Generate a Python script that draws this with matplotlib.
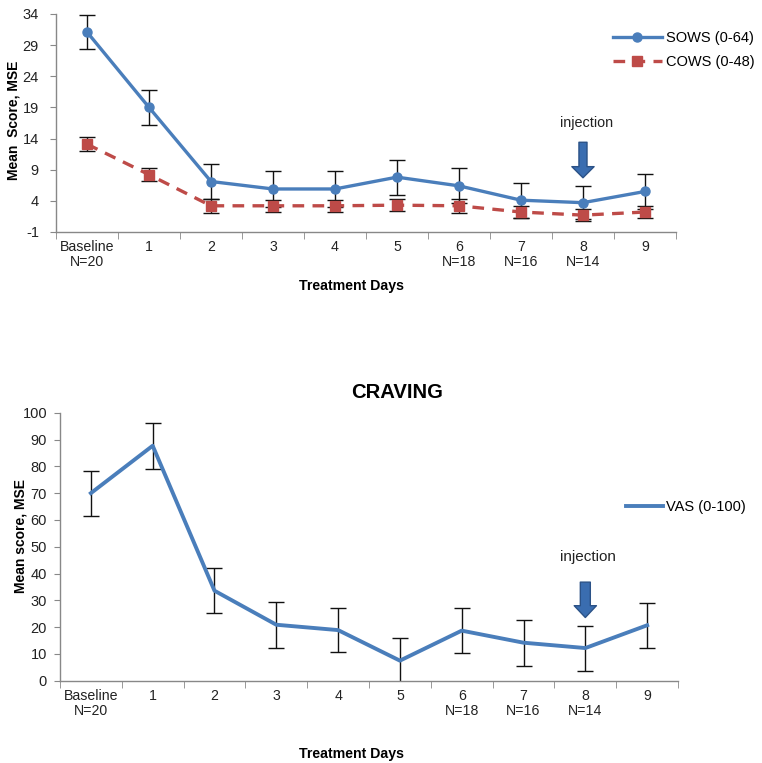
import matplotlib
matplotlib.use("Agg")
import matplotlib.pyplot as plt

plt.rcParams["font.family"] = ["Liberation Sans", "DejaVu Sans"]
plt.rcParams["axes.unicode_minus"] = False

# %% data
days = ["Baseline\nN=20", "1", "2", "3", "4", "5", "6\nN=18", "7\nN=16", "8\nN=14", "9"]

sows_mean = [31.1, 19.0, 7.1, 5.9, 5.9, 7.8, 6.4, 4.1, 3.7, 5.5]
sows_err = [2.8, 2.8, 2.8, 2.85, 2.85, 2.8, 2.8, 2.8, 2.7, 2.8]
cows_mean = [13.1, 8.2, 3.2, 3.2, 3.2, 3.3, 3.2, 2.2, 1.7, 2.2]
cows_err = [1.1, 1.0, 1.1, 1.0, 1.0, 1.0, 1.1, 1.0, 1.0, 1.0]

vas_mean = [70.0, 87.7, 33.6, 20.9, 18.9, 7.5, 18.7, 14.2, 12.2, 20.7]
vas_err = [8.4, 8.5, 8.3, 8.6, 8.3, 8.5, 8.3, 8.6, 8.4, 8.5]

top_yticks = list(range(-1, 35, 5))
bottom_yticks = list(range(0, 101, 10))

# %% styling
blue = "#4a7ebb"
red = "#be4b48"
arrow_fc = "#3a6db0"
arrow_ec = "#2b5287"
spine_c = "#888888"
text_c = "#222222"
x = list(range(len(days)))


def style_axes(ax, yticks, ypad):
    for s in ("top", "right"):
        ax.spines[s].set_visible(False)
    for s in ("left", "bottom"):
        ax.spines[s].set_color(spine_c)
        ax.spines[s].set_linewidth(1.0)
    ax.set_xlim(-0.5, len(days) - 0.5)
    ax.set_xticks(x)
    ax.set_xticklabels(days, fontsize=10.2, color=text_c, linespacing=1.1)
    ax.set_xticks([i - 0.5 for i in range(len(days) + 1)], minor=True)
    ax.tick_params(axis="x", which="major", length=0, pad=6)
    ax.tick_params(axis="x", which="minor", length=5, color=spine_c, direction="out")
    ax.set_yticks(yticks)
    ax.set_ylim(yticks[0], yticks[-1])
    ax.tick_params(axis="y", length=4, color=spine_c, labelsize=10.5, labelcolor=text_c, pad=ypad)


def injection_arrow(ax, x0, y_top, y_tip, tw, hw, hl):
    style = f"simple,head_length={hl},head_width={hw},tail_width={tw}"
    ax.annotate("", xy=(x0, y_tip), xytext=(x0, y_top),
                arrowprops=dict(arrowstyle=style, mutation_scale=10, fc=arrow_fc, ec=arrow_ec,
                                lw=1.0, shrinkA=0, shrinkB=0))


fig = plt.figure(figsize=(7.62, 7.63), dpi=100)

# %% top panel: SOWS / COWS
ax1 = fig.add_axes([0.0735, 0.696, 0.8136, 0.2857])
ax1.errorbar(x, sows_mean, yerr=sows_err, fmt="none", ecolor="#111111", elinewidth=1.0,
             capsize=5.5, capthick=1.0, zorder=2)
ax1.errorbar(x, cows_mean, yerr=cows_err, fmt="none", ecolor="#111111", elinewidth=1.0,
             capsize=5.5, capthick=1.0, zorder=2)
ax1.plot(x, sows_mean, color=blue, lw=2.4, marker="o", ms=6.5, zorder=4, label="SOWS (0-64)")
ax1.plot(x, cows_mean, color=red, lw=2.4, ls=(0, (3.5, 2.5)), marker="s", ms=7.5, zorder=3,
         label="COWS (0-48)")
style_axes(ax1, top_yticks, 8.3)
ax1.set_ylabel("Mean  Score, MSE", fontsize=10, fontweight="bold", color="black")
ax1.yaxis.set_label_coords(-0.058, 0.51)
ax1.set_xlabel("Treatment Days", fontsize=10.2, fontweight="bold", color="black")
ax1.xaxis.set_label_coords(0.477, -0.216)
injection_arrow(ax1, 8, 13.4, 7.7, 0.58, 1.6, 0.8)
ax1.text(8.05, 16.5, "injection", ha="center", va="center", fontsize=10.4, color=text_c)
ax1.legend(loc="upper left", bbox_to_anchor=(0.805, 0.959), bbox_transform=fig.transFigure,
           frameon=False, fontsize=10.5, handlelength=3.3, handletextpad=0.3,
           labelspacing=0.7, borderaxespad=0, borderpad=0)

# %% bottom panel: craving VAS
ax2 = fig.add_axes([0.0787, 0.1078, 0.8111, 0.3512])
ax2.errorbar(x, vas_mean, yerr=vas_err, fmt="none", ecolor="#111111", elinewidth=1.0,
             capsize=5.5, capthick=1.0, zorder=2)
ax2.plot(x, vas_mean, color=blue, lw=2.8, zorder=3, label="VAS (0-100)")
style_axes(ax2, bottom_yticks, 5.3)
ax2.set_ylabel("Mean score, MSE", fontsize=10, fontweight="bold", color="black")
ax2.yaxis.set_label_coords(-0.053, 0.54)
ax2.set_xlabel("Treatment Days", fontsize=10.2, fontweight="bold", color="black")
ax2.xaxis.set_label_coords(0.472, -0.246)
injection_arrow(ax2, 8, 36.8, 23.6, 0.72, 1.6, 0.85)
ax2.text(8.05, 46.2, "injection", ha="center", va="center", fontsize=11, color=text_c)
ax2.legend(loc="center left", bbox_to_anchor=(0.822, 1 - 507 / 763), bbox_transform=fig.transFigure,
           frameon=False, fontsize=10.5, handlelength=2.5, handletextpad=0.2,
           borderaxespad=0, borderpad=0)

fig.text(0.521, 1 - 392.7 / 763, "CRAVING", ha="center", va="center", fontsize=14.6,
         fontweight="bold")

fig.savefig("out.png", dpi=100)
